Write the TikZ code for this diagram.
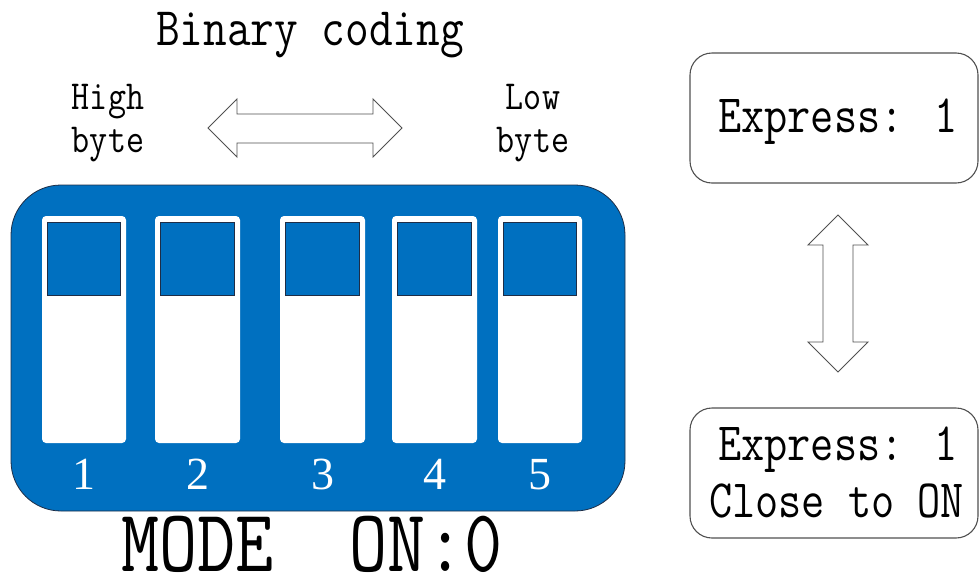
\documentclass[tikz,border=0pt]{standalone}
\usepackage{fontspec}
\newfontfamily\digitfont{Liberation Serif}
\definecolor{dipblue}{RGB}{0,112,192}
\definecolor{edgegray}{RGB}{80,80,80}
\definecolor{darkline}{RGB}{30,45,70}
\tikzset{
  mono/.style={inner sep=0pt, font=\ttfamily},
  boxframe/.style={draw=edgegray, line width=1.1pt, rounded corners=22pt},
  blockarrow/.style={draw=edgegray, line width=0.9pt, fill=white, line join=miter},
  slotbox/.style={fill=white, rounded corners=4pt},
  knob/.style={fill=dipblue, draw=darkline, line width=0.7pt},
  digit/.style={inner sep=0pt, text=white, font=\digitfont\fontsize{46}{50}\selectfont, anchor=base},
}
\newcommand{\tallt}[2][1.18]{\scalebox{1}[#1]{#2}}
\begin{document}
\begin{tikzpicture}[x=1pt,y=-1pt]
\useasboundingbox (0,0) rectangle (979,579);
% title
\node[mono, anchor=base, font=\ttfamily\fontsize{46}{50}\selectfont] (title) at (310,45) {\tallt{Binary coding}};
% high / low byte labels
\node[mono, anchor=base, font=\ttfamily\fontsize{35}{40}\selectfont] (high) at (108,109) {\tallt{High}};
\node[mono, anchor=base, font=\ttfamily\fontsize{35}{40}\selectfont] (highb) at (108,152) {\tallt{byte}};
\node[mono, anchor=base, font=\ttfamily\fontsize{35}{40}\selectfont] (low) at (533,109) {\tallt{Low}};
\node[mono, anchor=base, font=\ttfamily\fontsize{35}{40}\selectfont] (lowb) at (533,152) {\tallt{byte}};
% horizontal double arrow
\draw[blockarrow] (208,128) -- (237,99) -- (237,114) -- (373,114) -- (373,99) -- (402,128)
  -- (373,157) -- (373,143) -- (237,143) -- (237,157) -- cycle;
% DIP switch body
\draw[fill=dipblue, draw=darkline, line width=0.8pt, rounded corners=50pt] (11,185) rectangle (625,511);
\foreach \xa/\xb/\n in {42/126/1, 155/240/2, 280/365/3, 392/477/4, 498/582/5}{
  \fill[slotbox] (\xa,216) rectangle (\xb,443);
  \draw[knob] (\xa+5.5,222) rectangle (\xb-5.5,295);
  \node[digit] (d\n) at ({(\xa+\xb)/2},489) {\n};
}
% mode label
\node[mono, anchor=base west, text depth=0pt, font=\ttfamily\fontsize{74}{80}\selectfont] (mode) at (121,571) {\tallt[1.2]{MODE~~ON:0}};
% right boxes
\draw[boxframe] (690,53) rectangle (978,183);
\node[mono, anchor=base west, font=\ttfamily\fontsize{45}{50}\selectfont] (ex1) at (718,132) {\tallt[1.2]{Express: 1}};
\draw[blockarrow] (838,215) -- (868,245) -- (853,245) -- (853,342) -- (868,342) -- (838,372)
  -- (808,342) -- (823,342) -- (823,245) -- (808,245) -- cycle;
\draw[boxframe] (690,408) rectangle (978,538);
\node[mono, anchor=base west, font=\ttfamily\fontsize{45}{50}\selectfont] (ex2) at (718,460) {\tallt[1.2]{Express: 1}};
\node[mono, anchor=base west, font=\ttfamily\fontsize{45}{50}\selectfont] (close) at (709,517) {\tallt[1.2]{Close to ON}};
\end{tikzpicture}
\end{document}
